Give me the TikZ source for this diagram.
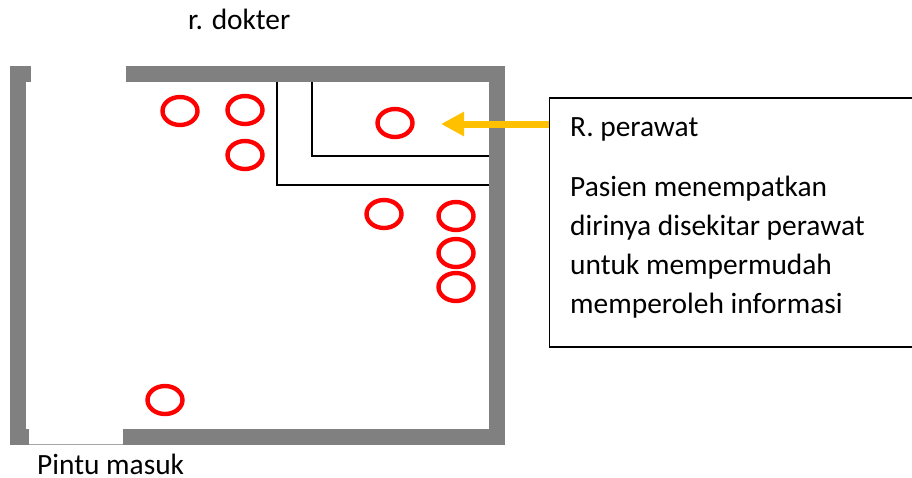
\documentclass[tikz,border=0pt]{standalone}
\usepackage{fontspec}
\setmainfont{Carlito}
\usetikzlibrary{arrows.meta,shapes.geometric}
\definecolor{wallgrey}{HTML}{808080}
\definecolor{arrowyellow}{HTML}{FFC000}
\definecolor{ringred}{HTML}{FF0000}
\tikzset{
  wall/.style={fill=wallgrey,draw=none},
  partition/.style={draw=black,line width=1.6pt},
  ring/.style={draw=ringred,line width=4.4pt,ellipse,minimum width=35pt,minimum height=28pt,inner sep=0pt},
  label/.style={font=\fontsize{29.4}{30}\selectfont,inner sep=0pt,anchor=base west,text=black},
  infobox/.style={draw=black,line width=1.6pt,fill=white,inner sep=0pt},
  pointer/.style={draw=arrowyellow,line width=7pt,-{Triangle[length=23pt,width=23pt]}},
}
\begin{document}
\begin{tikzpicture}[x=1pt,y=-1pt]
\useasboundingbox (0,0) rectangle (912,477);
% walls
\fill[wall] (10,66) rectangle (31,82);
\fill[wall] (126,66) rectangle (505,82);
\fill[wall] (10,66) rectangle (26,429);
\fill[wall] (10,429) rectangle (29,445);
\fill[wall] (489,66) rectangle (505,445);
\fill[wall] (123,429) rectangle (505,445);
\draw[draw=wallgrey!70,line width=0.8pt] (29,444.5) -- (123,444.5);
% partitions
\draw[partition] (277,82) -- (277,185) -- (489,185);
\draw[partition] (312,82) -- (312,156) -- (489,156);
% rings
\node[ring] (r1) at (180,111) {};
\node[ring] (r2) at (245,110) {};
\node[ring] (r3) at (245,155) {};
\node[ring] (r4) at (395,123) {};
\node[ring] (r5) at (384,214) {};
\node[ring] (r6) at (456,216) {};
\node[ring] (r7) at (456,253) {};
\node[ring] (r8) at (456,287) {};
\node[ring] (r9) at (165,400) {};
% info box
\node[infobox,minimum width=380pt,minimum height=249pt,anchor=north west] (box) at (548.5,97) {};
\coordinate (tip) at (441,124);
\draw[pointer] (box.west |- tip) -- (tip);
% labels
\node[label] (dokter) at (188,29) {r. dokter};
\node[label] (pintu) at (37,474) {Pintu masuk};
\node[label] (t1) at (570,136) {R. perawat};
\node[label] (t2) at (570,196) {Pasien menempatkan};
\node[label] (t3) at (570,235) {dirinya disekitar perawat};
\node[label] (t4) at (570,274) {untuk mempermudah};
\node[label] (t5) at (570,313) {memperoleh informasi};
\end{tikzpicture}
\end{document}
